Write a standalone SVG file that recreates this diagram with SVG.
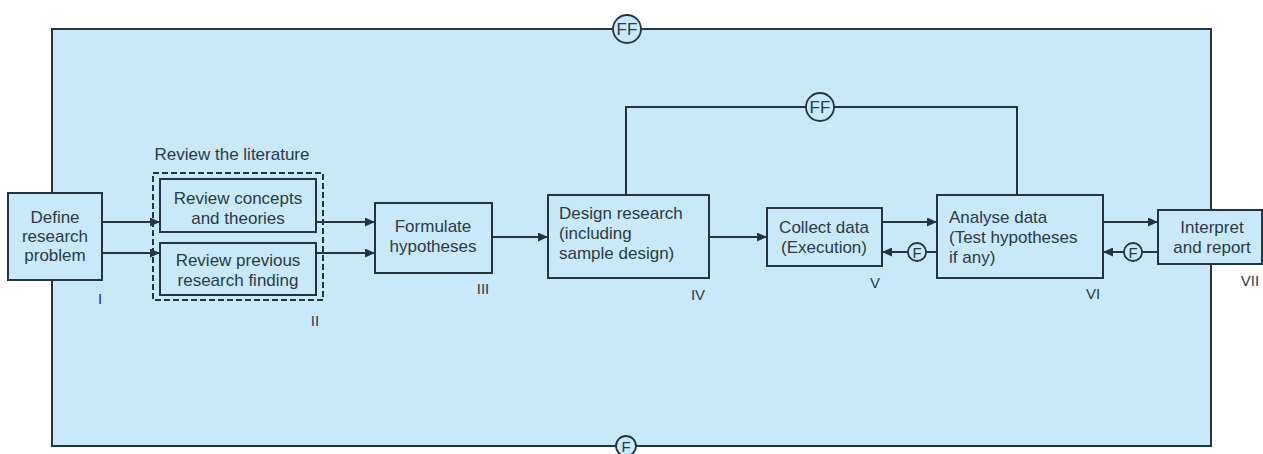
<svg xmlns="http://www.w3.org/2000/svg" width="1263" height="454" viewBox="0 0 1263 454">
<defs>
<marker id="ah" markerUnits="userSpaceOnUse" markerWidth="11" markerHeight="9" refX="10" refY="4.5" orient="auto">
<path d="M0,0 L10,4.5 L0,9 z" fill="#243540"/>
</marker>
<style>
.box{fill:#c9e8f9;stroke:#243540;stroke-width:2}
.ln{fill:none;stroke:#243540;stroke-width:2}
.ar{fill:none;stroke:#243540;stroke-width:2;marker-end:url(#ah)}
.t{font-family:"Liberation Sans",Arial,sans-serif;font-size:17px;fill:#2b3b45}
.c{text-anchor:middle}
.lb{font-family:"Liberation Sans",Arial,sans-serif;font-size:15px;fill:#2b3b45;text-anchor:middle}
.cir{fill:#c9e8f9;stroke:#243540;stroke-width:1.8}
</style>
</defs>
<rect width="1263" height="454" fill="#ffffff"/>
<g id="frame">
<rect x="52" y="29" width="1159" height="417" class="box"/>
<circle cx="627" cy="29" r="14" class="cir"/>
<text x="627" y="35" class="t c">FF</text>
<circle cx="626" cy="446" r="10" class="cir"/>
<text x="626" y="452" class="t c" style="font-size:15px">F</text>
</g>
<g id="connectors">
<path d="M102,222 H160" class="ar"/>
<path d="M102,253 H160" class="ar"/>
<path d="M316,222 H375" class="ar"/>
<path d="M316,253 H375" class="ar"/>
<path d="M492,237 H548" class="ar"/>
<path d="M709,237 H767" class="ar"/>
<path d="M882,222 H937" class="ar"/>
<path d="M1103,222 H1158" class="ar"/>
<path d="M937,252 H926" class="ln"/>
<path d="M908,252 H882" class="ar"/>
<circle cx="917" cy="252" r="9" class="cir"/>
<text x="917" y="257.5" class="t c" style="font-size:15px">F</text>
<path d="M1158,252 H1142" class="ln"/>
<path d="M1124,252 H1103" class="ar"/>
<circle cx="1133" cy="252" r="9" class="cir"/>
<text x="1133" y="257.5" class="t c" style="font-size:15px">F</text>
<path d="M626,195 V107 H1017 V195" class="ln"/>
<circle cx="820" cy="107" r="14" class="cir"/>
<text x="820" y="113" class="t c">FF</text>
</g>
<g id="n1">
<rect x="8" y="193" width="94" height="87" class="box"/>
<text class="t c"><tspan x="55" y="223">Define</tspan><tspan x="55" y="242">research</tspan><tspan x="55" y="261">problem</tspan></text>
<text x="100" y="304" class="lb">I</text>
</g>
<g id="n2">
<text x="232" y="160" class="t c">Review the literature</text>
<rect x="153" y="173" width="170" height="127" fill="none" stroke="#243540" stroke-width="2" stroke-dasharray="6,3"/>
<rect x="160" y="179" width="156" height="53" class="box"/>
<text class="t c"><tspan x="238" y="204">Review concepts</tspan><tspan x="238" y="224">and theories</tspan></text>
<rect x="160" y="243" width="156" height="52" class="box"/>
<text class="t c"><tspan x="238" y="266">Review previous</tspan><tspan x="238" y="286">research finding</tspan></text>
<text x="315" y="326" class="lb">II</text>
</g>
<g id="n3">
<rect x="375" y="203" width="117" height="70" class="box"/>
<text class="t c"><tspan x="433" y="232">Formulate</tspan><tspan x="433" y="252">hypotheses</tspan></text>
<text x="483" y="294" class="lb">III</text>
</g>
<g id="n4">
<rect x="548" y="195" width="161" height="83" class="box"/>
<text class="t"><tspan x="559" y="219">Design research</tspan><tspan x="559" y="239">(including</tspan><tspan x="559" y="259">sample design)</tspan></text>
<text x="698" y="300" class="lb">IV</text>
</g>
<g id="n5">
<rect x="767" y="208" width="115" height="58" class="box"/>
<text class="t c"><tspan x="824" y="233">Collect data</tspan><tspan x="824" y="253">(Execution)</tspan></text>
<text x="875" y="288" class="lb">V</text>
</g>
<g id="n6">
<rect x="937" y="195" width="166" height="83" class="box"/>
<text class="t"><tspan x="949" y="223">Analyse data</tspan><tspan x="949" y="243">(Test hypotheses</tspan><tspan x="949" y="263">if any)</tspan></text>
<text x="1093" y="299" class="lb">VI</text>
</g>
<g id="n7">
<rect x="1158" y="210" width="104" height="54" class="box"/>
<text class="t c"><tspan x="1212" y="233">Interpret</tspan><tspan x="1212" y="253">and report</tspan></text>
<text x="1250" y="286" class="lb">VII</text>
</g>
</svg>
